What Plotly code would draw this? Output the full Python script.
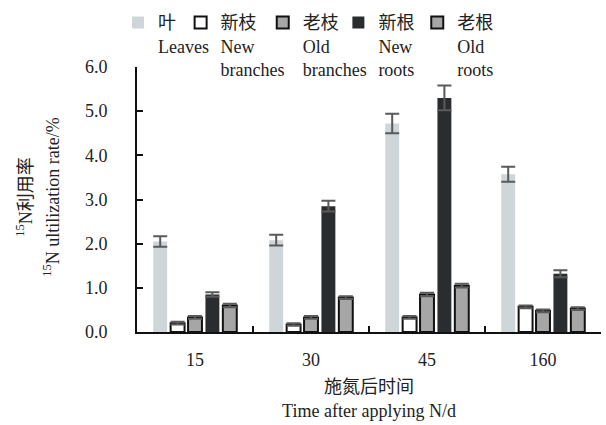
import plotly.graph_objects as go

categories = ["15", "30", "45", "160"]
series_names = ["叶<br>Leaves", "新枝<br>New<br>branches", "老枝<br>Old<br>branches", "新根<br>New<br>roots", "老根<br>Old<br>roots"]
leaves = [2.05, 2.08, 4.72, 3.57]
leaves_err = [0.12, 0.12, 0.22, 0.17]
new_branches = [0.20, 0.17, 0.33, 0.57]
new_branches_err = [0.03, 0.03, 0.03, 0.03]
old_branches = [0.33, 0.33, 0.85, 0.48]
old_branches_err = [0.03, 0.03, 0.04, 0.03]
new_roots = [0.85, 2.85, 5.30, 1.32]
new_roots_err = [0.05, 0.12, 0.28, 0.08]
old_roots = [0.60, 0.78, 1.05, 0.53]
old_roots_err = [0.04, 0.03, 0.04, 0.03]
y_title_lines = ["<sup>15</sup>N利用率", "<sup>15</sup>N ultilization rate/%"]

values = [leaves, new_branches, old_branches, new_roots, old_roots]
errors = [leaves_err, new_branches_err, old_branches_err, new_roots_err, old_roots_err]
fills = ["#cfd6d9", "#ffffff", "#a6a6a6", "#2a2d2f", "#a6a6a6"]
line_w = [0, 2, 2, 0, 2]
legend_ids = ["legend", "legend2", "legend3", "legend4", "legend5"]
legend_x = [-0.041, 0.094, 0.271, 0.434, 0.604]

FONT = "Liberation Serif, Noto Sans CJK SC"

fig = go.Figure()
for i in range(5):
    fig.add_trace(go.Bar(
        x=categories, y=values[i], name=series_names[i],
        marker=dict(color=fills[i], line=dict(color="#111111", width=line_w[i])),
        error_y=dict(type="data", array=errors[i], color="#5a5a5a", thickness=2, width=7),
        legend=legend_ids[i],
    ))

layout_legends = {}
for i in range(5):
    layout_legends[legend_ids[i]] = dict(
        x=legend_x[i], y=0.990, yref="container", xanchor="left", yanchor="top",
        orientation="h", itemwidth=30, valign="top",
        font=dict(family=FONT, size=18, color="#222222"),
        bgcolor="rgba(0,0,0,0)", tracegroupgap=0,
    )

fig.update_layout(
    width=606, height=425,
    margin=dict(l=137, r=5, t=67, b=93, autoexpand=False),
    paper_bgcolor="white", plot_bgcolor="white",
    barmode="group", bargap=0.25, bargroupgap=0.2,
    font=dict(family=FONT, size=18, color="#222222"),
    showlegend=True,
    **layout_legends,
)
fig.add_annotation(text=y_title_lines[0], xref="paper", yref="paper",
                   x=(25 - 137) / 464, y=0.51, xanchor="center", yanchor="middle",
                   textangle=-90, showarrow=False, font=dict(family=FONT, size=18, color="#222222"))
fig.add_annotation(text=y_title_lines[1], xref="paper", yref="paper",
                   x=(52 - 137) / 464, y=0.51, xanchor="center", yanchor="middle",
                   textangle=-90, showarrow=False, font=dict(family=FONT, size=18, color="#222222"))
fig.update_xaxes(
    type="category", showline=True, linecolor="#111111", linewidth=2,
    ticks="inside", tickson="boundaries", ticklen=6, tickwidth=2, tickcolor="#111111",
    ticklabelstandoff=10, automargin=False,
    title=dict(text="施氮后时间<br>Time after applying N/d", font=dict(size=18), standoff=12),
)
fig.update_yaxes(
    range=[0, 6.0], dtick=1, tickformat=".1f", showgrid=False, zeroline=False,
    showline=True, linecolor="#111111", linewidth=2,
    ticks="inside", ticklen=6, tickwidth=2, tickcolor="#111111",
    ticklabelstandoff=24, automargin=False,
)

fig.write_html("out.html", config={"displayModeBar": False},
               post_script="document.body.style.margin='0';")
